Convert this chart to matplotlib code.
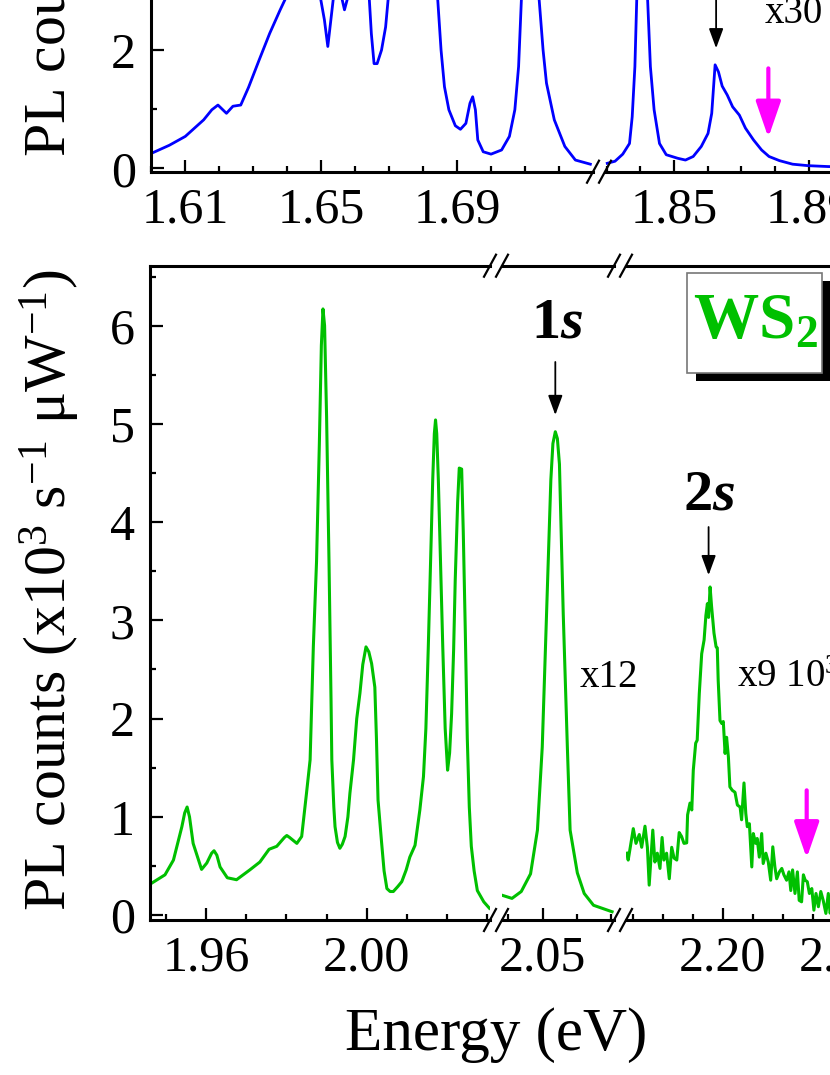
import matplotlib
matplotlib.use('Agg')
import matplotlib.pyplot as plt
import numpy as np
from matplotlib import font_manager
from matplotlib.lines import Line2D
from matplotlib.patches import Rectangle
from matplotlib.ticker import FixedLocator, FormatStrFormatter


#-----------------------------------------------------------------------------
# data (energy in eV, PL counts x10^3 s^-1 uW^-1)

# top panel, left piece
top_left_e = [1.5999, 1.6053, 1.6100, 1.6154, 1.6178, 1.6196, 1.6221, 1.6240,
              1.6263, 1.6286, 1.6317, 1.6348, 1.6379, 1.6402, 1.6440, 1.6480,
              1.6495, 1.6509, 1.6519, 1.6528, 1.6537, 1.6548, 1.6557, 1.6568,
              1.6581, 1.6610, 1.6640, 1.6647, 1.6655, 1.6664, 1.6677, 1.6689,
              1.6698, 1.6740, 1.6800, 1.6841, 1.6852, 1.6862, 1.6875, 1.6894,
              1.6909, 1.6925, 1.6937, 1.6945, 1.6953, 1.6960, 1.6976, 1.6999,
              1.7030, 1.7053, 1.7069, 1.7080, 1.7089, 1.7110, 1.7139, 1.7152,
              1.7162, 1.7185, 1.7216, 1.7247, 1.7291]
top_left_v = [0.25, 0.39, 0.54, 0.82, 0.99, 1.07, 0.93, 1.05,
              1.07, 1.37, 1.83, 2.28, 2.68, 2.96, 3.6, 3.4,
              2.96, 2.51, 2.06, 2.51, 2.96, 3.1, 2.96, 2.68,
              2.96, 3.4, 2.96, 2.28, 1.77, 1.77, 2.0, 2.39,
              2.96, 4.0, 4.2, 2.96, 2.0, 1.38, 0.99, 0.72,
              0.66, 0.76, 1.10, 1.21, 0.99, 0.48, 0.28, 0.24,
              0.31, 0.54, 0.99, 1.72, 2.96, 5.5, 2.96, 2.0,
              1.44, 0.82, 0.37, 0.14, 0.07]

# top panel, right piece
top_right_e = [1.8302, 1.8325, 1.8348, 1.8368, 1.8376, 1.8384, 1.8390, 1.8405,
               1.8421, 1.8430, 1.8441, 1.8457, 1.8477, 1.8511, 1.8534, 1.8557,
               1.8581, 1.8601, 1.8612, 1.8622, 1.8632, 1.8643, 1.8658, 1.8674,
               1.8694, 1.8712, 1.8736, 1.8760, 1.8782, 1.8813, 1.8852, 1.8898,
               1.8957, 1.9050, 1.9200]
top_right_v = [0.085, 0.12, 0.24, 0.42, 0.87, 1.72, 2.96, 6.0,
               2.96, 1.72, 0.99, 0.42, 0.23, 0.17, 0.14, 0.20,
               0.37, 0.59, 0.93, 1.75, 1.63, 1.39, 1.24, 1.04,
               0.90, 0.68, 0.48, 0.31, 0.20, 0.13, 0.07, 0.045,
               0.03, 0.02, 0.015]

# bottom panel (WS2), left piece
ws2_left_e = [1.9461, 1.9498, 1.9519, 1.9540, 1.9547, 1.9553, 1.9559, 1.9568,
              1.9589, 1.9602, 1.9614, 1.9620, 1.9627, 1.9635, 1.9653, 1.9676,
              1.9709, 1.9734, 1.9757, 1.9776, 1.9795, 1.9801, 1.9808, 1.9826,
              1.9838, 1.9850, 1.9859, 1.9867, 1.9875, 1.9882, 1.9887, 1.9891,
              1.9895, 1.9900, 1.9906, 1.9911, 1.9913, 1.9918, 1.9921, 1.9927,
              1.9933, 1.9939, 1.9946, 1.9953, 1.9958, 1.9967, 1.9975, 1.9983,
              1.9990, 1.9998, 2.0005, 2.0012, 2.0020, 2.0024, 2.0028, 2.0037,
              2.0043, 2.0050, 2.0058, 2.0066, 2.0077, 2.0087, 2.0098, 2.0107,
              2.0120, 2.0132, 2.0141, 2.0147, 2.0153, 2.0160, 2.0164, 2.0168,
              2.0171, 2.0174, 2.0178, 2.0184, 2.0189, 2.0195, 2.0201, 2.0206,
              2.0211, 2.0216, 2.0220, 2.0226, 2.0230, 2.0236, 2.0240, 2.0245,
              2.0250, 2.0255, 2.0260, 2.0267, 2.0275, 2.0291, 2.0305]
ws2_left_v = [0.315, 0.41, 0.56, 0.90, 1.04, 1.10, 1.00, 0.73,
              0.465, 0.53, 0.63, 0.655, 0.61, 0.49, 0.38, 0.36,
              0.46, 0.54, 0.67, 0.70, 0.79, 0.81, 0.79, 0.73,
              0.80, 1.24, 1.58, 2.73, 3.6, 4.8, 5.8, 6.17,
              6.0, 5.07, 3.6, 2.2, 1.58, 1.10, 0.90, 0.74,
              0.68, 0.72, 0.80, 1.0, 1.24, 1.58, 2.0, 2.26,
              2.55, 2.73, 2.68, 2.56, 2.32, 1.8, 1.17, 0.73,
              0.45, 0.27, 0.24, 0.24, 0.29, 0.34, 0.46, 0.59,
              0.71, 1.07, 1.41, 1.9, 2.73, 3.8, 4.43, 4.9,
              5.04, 4.9, 4.43, 3.5, 2.73, 1.9, 1.475, 1.65,
              2.05, 2.7, 3.41, 4.2, 4.55, 4.54, 3.9, 2.9,
              1.8, 1.1, 0.7, 0.45, 0.25, 0.135, 0.07]

# bottom panel, 1s piece (x12)
ws2_1s_e = [2.0384, 2.0411, 2.0438, 2.0465, 2.0485, 2.0499, 2.0510, 2.0524,
            2.0530, 2.0537, 2.0543, 2.0549, 2.0560, 2.0572, 2.0580, 2.0601,
            2.0621, 2.0648, 2.0702]
ws2_1s_v = [0.20, 0.17, 0.24, 0.42, 0.865, 1.71, 2.90, 4.43,
            4.8, 4.92, 4.85, 4.59, 3.07, 1.71, 0.865, 0.43,
            0.22, 0.10, 0.034]

# bottom panel, 2s piece (x9 10^3)
ws2_2s_e = [2.1680, 2.1685, 2.1702, 2.1711, 2.1722, 2.1730, 2.1741, 2.1749,
            2.1755, 2.1767, 2.1774, 2.1782, 2.1791, 2.1798, 2.1804, 2.1813,
            2.1822, 2.1830, 2.1838, 2.1847, 2.1855, 2.1863, 2.1871, 2.1880,
            2.1883, 2.1891, 2.1897, 2.1902, 2.1910, 2.1915, 2.1922, 2.1930,
            2.1938, 2.1944, 2.1949, 2.1953, 2.1958, 2.1963, 2.1971, 2.1978,
            2.1982, 2.1985, 2.1991, 2.1997, 2.2002, 2.2008, 2.2013, 2.2019,
            2.2024, 2.2032, 2.2041, 2.2049, 2.2058, 2.2063, 2.2071, 2.2077,
            2.2082, 2.2089, 2.2097, 2.2102, 2.2110, 2.2115, 2.2122, 2.2130,
            2.2135, 2.2144, 2.2152, 2.2160, 2.2167, 2.2174, 2.2180, 2.2189,
            2.2197, 2.2204, 2.2213, 2.2221, 2.2227, 2.2233, 2.2241, 2.2249,
            2.2255, 2.2263, 2.2269, 2.2275, 2.2282, 2.2289, 2.2297, 2.2304,
            2.2311, 2.2319, 2.2327, 2.2335, 2.2344, 2.2352, 2.2358, 2.2370,
            2.2385, 2.2400, 2.2420, 2.2450]
ws2_2s_v = [0.63, 0.56, 0.88, 0.73, 0.82, 0.69, 0.905, 0.69,
            0.305, 0.865, 0.54, 0.63, 0.475, 0.79, 0.56, 0.63,
            0.37, 0.69, 0.58, 0.56, 0.84, 0.80, 0.73, 0.735,
            1.02, 1.14, 1.07, 1.475, 1.75, 1.78, 2.255, 2.66,
            2.80, 3.05, 3.17, 3.03, 3.34, 3.14, 2.87, 2.73,
            2.72, 2.39, 1.98, 1.95, 1.97, 1.645, 1.81, 1.61,
            1.305, 1.27, 1.25, 1.12, 1.10, 0.97, 1.345, 1.035,
            0.90, 0.93, 0.49, 0.83, 0.73, 0.78, 0.59, 0.83,
            0.525, 0.63, 0.54, 0.355, 0.695, 0.49, 0.37, 0.44,
            0.475, 0.41, 0.355, 0.44, 0.25, 0.46, 0.22, 0.44,
            0.15, 0.135, 0.41, 0.355, 0.34, 0.22, 0.27, 0.05,
            0.22, 0.085, 0.24, 0.15, 0.017, 0.22, 0.02, 0.12,
            0.03, 0.10, 0.02, 0.05]

# tick positions
top_left_major = [1.61, 1.65, 1.69]
top_right_major = [1.85, 1.89, 1.93]
ws2_left_major = [1.96, 2.00]
ws2_mid_major = [2.05]
ws2_right_major = [2.20, 2.24, 2.28]


BLUE = '#0000ff'
GREEN = '#00c000'
MAGENTA = '#ff00ff'

W, H = 830, 1075  # figure size in pixels

TICK_SIZE = 36
LABEL_SIZE = 43


def box(x0, x1, ytop, ybot):
    # axes rectangle from pixel edges (y counted from the top)
    return [x0 / W, 1 - ybot / H, (x1 - x0) / W, (ybot - ytop) / H]


def segment(fig, rect, xlim, ylim, major, first, ymajor=None, yminor=None):
    ax = fig.add_axes(rect)
    ax.set_xlim(xlim)
    ax.set_ylim(ylim)
    ax.patch.set_alpha(0)
    ax.xaxis.set_major_locator(FixedLocator(major))
    ax.xaxis.set_minor_locator(FixedLocator(np.round(np.arange(1.50, 2.40, 0.01), 2)))
    ax.xaxis.set_major_formatter(FormatStrFormatter('%.2f'))
    ax.tick_params(which='both', direction='in', top=False, right=False,
                   labelsize=TICK_SIZE, pad=11, width=1.6)
    ax.tick_params(which='major', length=9)
    ax.tick_params(which='minor', length=4.5)
    ax.spines['right'].set_visible(False)
    if first:
        ax.yaxis.set_major_locator(FixedLocator(ymajor))
        ax.yaxis.set_minor_locator(FixedLocator(yminor))
        ax.yaxis.set_major_formatter(FormatStrFormatter('%d'))
    else:
        ax.spines['left'].set_visible(False)
        ax.tick_params(axis='y', which='both', left=False, labelleft=False)
    return ax


def arrow(ax, x, y0, y1, color, lw, hl, hw):
    ax.annotate('', xy=(x, y1), xytext=(x, y0), annotation_clip=False,
                arrowprops=dict(arrowstyle='-|>,head_length=%g,head_width=%g' % (hl, hw),
                                color=color, lw=lw, shrinkA=0, shrinkB=0,
                                mutation_scale=20))


def slash(fig, x, y):
    fig.add_artist(Line2D([(x - 6) / W, (x + 6) / W],
                          [1 - (y + 11) / H, 1 - (y - 11) / H],
                          transform=fig.transFigure, color='k', lw=1.6))


def main():

    # Times-like serif: Liberation Serif if present, else the STIX font shipped with matplotlib
    names = {f.name for f in font_manager.fontManager.ttflist}
    serif = 'Liberation Serif' if 'Liberation Serif' in names else 'STIXGeneral'

    plt.rcParams['font.family'] = [serif, 'DejaVu Serif']
    plt.rcParams['mathtext.fontset'] = 'custom'
    plt.rcParams['mathtext.rm'] = serif
    plt.rcParams['mathtext.it'] = serif + ':italic'
    plt.rcParams['mathtext.bf'] = serif + ':bold'
    plt.rcParams['mathtext.bfit'] = serif + ':italic:bold'
    plt.rcParams['axes.linewidth'] = 2.2

    fig = plt.figure(figsize=(W / 100, H / 100), dpi=100)

    #-------------------------------------------------------------------------
    # top panel (cut by the frame)

    ylim_top = (-0.057, 10.86)
    ax_tl = segment(fig, box(151, 593, -474, 171.7), (1.59991, 1.72988), ylim_top,
                    top_left_major, True, [0, 2, 4, 6, 8, 10], [1, 3, 5, 7, 9])
    ax_tr = segment(fig, box(605, 1100, -474, 171.7), (1.82953, 1.97641), ylim_top,
                    top_right_major, False)

    ax_tl.plot(top_left_e, top_left_v, color=BLUE, lw=2.0)
    ax_tr.plot(top_right_e, top_right_v, color=BLUE, lw=2.0)

    arrow(ax_tr, 1.8625, 3.3, 2.03, 'k', 1.3, 0.6, 0.22)
    arrow(ax_tr, 1.8780, 1.69, 0.52, MAGENTA, 3.0, 1.1, 0.38)
    ax_tr.text(1.8768, 2.456, 'x30', fontsize=28, ha='left', va='baseline')

    for x in (593, 605):
        slash(fig, x, 171.7)

    #-------------------------------------------------------------------------
    # bottom panel, WS2

    ylim_bot = (-0.05, 6.61)
    ax_bl = segment(fig, box(150, 490, 265.7, 920), (1.94607, 2.03065), ylim_bot,
                    ws2_left_major, True, [0, 1, 2, 3, 4, 5, 6],
                    [0.5, 1.5, 2.5, 3.5, 4.5, 5.5, 6.5])
    ax_bm = segment(fig, box(502, 614, 265.7, 920), (2.03820, 2.07076), ylim_bot,
                    ws2_mid_major, False)
    ax_br = segment(fig, box(626, 1100, 265.7, 920), (2.16777, 2.32577), ylim_bot,
                    ws2_right_major, False)

    ax_bl.plot(ws2_left_e, ws2_left_v, color=GREEN, lw=2.2)
    ax_bm.plot(ws2_1s_e, ws2_1s_v, color=GREEN, lw=2.2)
    ax_br.plot(ws2_2s_e, ws2_2s_v, color=GREEN, lw=2.2)

    ax_bm.text(2.0542, 6.02, r'$\mathbf{1}\mathbfit{s}$', fontsize=42,
               ha='center', va='center')
    arrow(ax_bm, 2.0537, 5.63, 5.09, 'k', 1.3, 0.6, 0.22)
    ax_bm.text(2.0609, 2.32, 'x12', fontsize=28, ha='left', va='baseline')

    ax_br.text(2.1954, 4.27, r'$\mathbf{2}\mathbfit{s}$', fontsize=42,
               ha='center', va='center')
    arrow(ax_br, 2.1953, 3.95, 3.46, 'k', 1.3, 0.6, 0.22)
    arrow(ax_br, 2.2280, 1.27, 0.58, MAGENTA, 3.0, 1.1, 0.38)
    ax_br.text(2.2047, 2.32, 'x9 10$^3$', fontsize=28, ha='left', va='baseline')

    for x in (490, 502, 614, 626):
        slash(fig, x, 920)
        slash(fig, x, 265.7)

    # WS2 label box with drop shadow
    fig.add_artist(Rectangle((696 / W, 1 - 381 / H), 140 / W, 100 / H,
                             transform=fig.transFigure, facecolor='k',
                             edgecolor='none'))
    fig.add_artist(Rectangle((686.7 / W, 1 - 372.7 / H), 135.6 / W, 100 / H,
                             transform=fig.transFigure, facecolor='white',
                             edgecolor='#777777', lw=1.2))
    fig.text(755 / W, 1 - 322 / H, r'$\mathbf{WS_2}$', color=GREEN, fontsize=47,
             ha='center', va='center')

    #-------------------------------------------------------------------------
    # axis labels

    ylabel = r'PL counts (x10$^3$ s$^{-1}$ μW$^{-1}$)'
    fig.text(50 / W, 1 - 590.5 / H, ylabel, rotation=90, fontsize=LABEL_SIZE,
             ha='center', va='center')
    fig.text(50 / W, 1 - 157 / H, ylabel, rotation=90, fontsize=LABEL_SIZE,
             ha='center', va='bottom')
    fig.text(496 / W, 1 - 1050 / H, 'Energy (eV)', fontsize=44,
             ha='center', va='baseline')

    fig.savefig('out.png', dpi=100)


if __name__ == "__main__":
    main()
